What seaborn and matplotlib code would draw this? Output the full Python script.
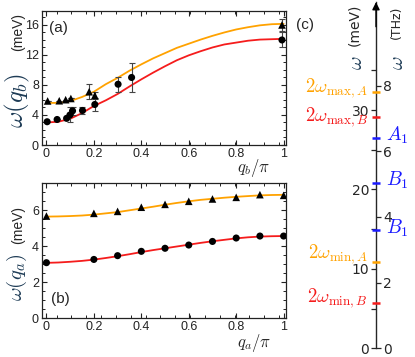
import numpy as np
import pandas as pd
import matplotlib
matplotlib.use('Agg')
import matplotlib.pyplot as plt
import seaborn as sns
from matplotlib.ticker import MultipleLocator, FixedLocator

# ---- data ----
q_curve = np.round(np.arange(0, 1.001, 0.05), 2)

# panel (a): dispersion along q_b
wb_curve_A = [5.6, 5.62, 5.85, 6.4, 7.1, 8.1, 8.95, 9.9, 10.75, 11.55, 12.25,
              12.95, 13.5, 14.05, 14.55, 15.0, 15.4, 15.7, 15.95, 16.1, 16.15]
wb_curve_B = [3.0, 3.1, 3.5, 4.25, 5.2, 5.95, 6.8, 7.8, 8.75, 9.65, 10.5,
              11.3, 11.95, 12.5, 13.0, 13.4, 13.65, 13.9, 14.05, 14.1, 14.15]
qb_pts_B = [0.003, 0.045, 0.085, 0.099, 0.11, 0.152, 0.204, 0.302, 0.359, 0.993]
wb_pts_B = [3.1, 3.4, 3.55, 4.0, 4.55, 4.6, 5.4, 8.1, 9.0, 14.0]
wb_err_B = [0, 0, 0, 1.0, 0.5, 0.45, 0.9, 1.0, 1.95, 1.0]
qb_pts_A = [0.005, 0.054, 0.081, 0.103, 0.18, 0.204, 0.993]
wb_pts_A = [5.87, 5.9, 6.04, 6.2, 7.1, 6.6, 16.0]
wb_err_A = [0, 0, 0, 0, 1.0, 0.5, 0.8]

# panel (b): dispersion along q_a
wa_curve_A = [5.65, 5.66, 5.68, 5.71, 5.76, 5.83, 5.9, 6.0, 6.1, 6.2, 6.31,
              6.41, 6.5, 6.58, 6.64, 6.7, 6.75, 6.79, 6.83, 6.85, 6.86]
wa_curve_B = [3.08, 3.1, 3.14, 3.19, 3.26, 3.35, 3.45, 3.56, 3.68, 3.79, 3.89,
              3.99, 4.09, 4.19, 4.28, 4.36, 4.44, 4.5, 4.54, 4.56, 4.57]
qa_pts = [0, 0.2, 0.3, 0.4, 0.5, 0.6, 0.7, 0.8, 0.9, 1.0]
wa_pts_A = [5.68, 5.83, 5.94, 6.17, 6.33, 6.5, 6.63, 6.72, 6.87, 6.83]
wa_pts_B = [3.09, 3.27, 3.48, 3.72, 3.89, 4.07, 4.27, 4.46, 4.57, 4.57]

# panel (c): energy scale marks (meV)
mark_names = [r'$2\omega_{\max,A}$', r'$2\omega_{\max,B}$', r'$A_1$', r'$B_1$',
              r'$B_1$', r'$2\omega_{\min,A}$', r'$2\omega_{\min,B}$']
mark_energy = [32.3, 29.1, 26.45, 20.8, 14.9, 10.9, 5.75]
mark_kind = ['A', 'B', 'mode', 'mode', 'mode', 'A', 'B']
mev_per_thz = 4.1357

# small vertical nudges of the label baselines (meV), as in the reference
label_nudge = [0.0, -0.5, -0.3, -0.3, -0.5, 0.5, 0.0]

ORANGE = '#ffa200'
RED = '#f51c1c'
BLUE = '#1a1aff'
kind_color = {'A': ORANGE, 'B': RED, 'mode': BLUE}

sns.set_style('ticks')
plt.rcParams['font.family'] = ['Liberation Sans', 'DejaVu Sans']
plt.rcParams['mathtext.fontset'] = 'cm'

W, H = 415, 357
fig = plt.figure(figsize=(W / 100, H / 100), dpi=100)


def px_axes(x0, y0, x1, y1):
    return fig.add_axes([x0 / W, 1 - y1 / H, (x1 - x0) / W, (y1 - y0) / H])


def style_panel(ax, ymax, ymajor, yminor):
    ax.set_xlim(-0.02, 1.01)
    ax.set_ylim(0, ymax)
    ax.xaxis.set_major_locator(FixedLocator([0, 0.2, 0.4, 0.6, 0.8, 1.0]))
    ax.set_xticklabels(['0', '0.2', '0.4', '0.6', '0.8', '1'])
    ax.xaxis.set_minor_locator(FixedLocator(np.arange(0.043, 1.0, 0.0625)))
    ax.yaxis.set_major_locator(MultipleLocator(ymajor))
    ax.yaxis.set_minor_locator(MultipleLocator(yminor))
    ax.tick_params(which='both', direction='in', top=True, right=True,
                   labelsize=9, colors='#222222', pad=2)
    ax.tick_params(which='major', length=3.6, width=0.8)
    ax.tick_params(which='minor', length=2.0, width=0.7)
    for s in ax.spines.values():
        s.set_linewidth(0.9)
        s.set_color('#222222')
    ax.set_xlabel('')
    ax.set_ylabel('')


# ---- panel (a) ----
ax_a = px_axes(41.7, 10.7, 286, 145)
curve_a = pd.DataFrame({'q': q_curve, 'A': wb_curve_A, 'B': wb_curve_B})
sns.lineplot(data=curve_a, x='q', y='A', color=ORANGE, lw=1.3, ax=ax_a)
sns.lineplot(data=curve_a, x='q', y='B', color=RED, lw=1.3, ax=ax_a)
ax_a.errorbar(qb_pts_A, wb_pts_A, yerr=wb_err_A, fmt='none', ecolor='#444444',
              elinewidth=0.8, capsize=2.5, capthick=0.8)
ax_a.errorbar(qb_pts_B, wb_pts_B, yerr=wb_err_B, fmt='none', ecolor='#444444',
              elinewidth=0.8, capsize=2.5, capthick=0.8)
sns.scatterplot(x=qb_pts_A, y=wb_pts_A, marker='^', s=30, color='black',
                edgecolor='none', ax=ax_a, zorder=5)
sns.scatterplot(x=qb_pts_B, y=wb_pts_B, marker='o', s=26, color='black',
                edgecolor='none', ax=ax_a, zorder=5)
style_panel(ax_a, 17.9, 4, 1)
ax_a.text(0.03, 0.92, '(a)', transform=ax_a.transAxes, fontsize=11,
          va='top', ha='left')

# ---- panel (b) ----
ax_b = px_axes(41.7, 183.3, 286, 318.3)
curve_b = pd.DataFrame({'q': q_curve, 'A': wa_curve_A, 'B': wa_curve_B})
sns.lineplot(data=curve_b, x='q', y='A', color=ORANGE, lw=1.3, ax=ax_b)
sns.lineplot(data=curve_b, x='q', y='B', color=RED, lw=1.3, ax=ax_b)
sns.scatterplot(x=qa_pts, y=wa_pts_A, marker='^', s=30, color='black',
                edgecolor='none', ax=ax_b, zorder=5)
sns.scatterplot(x=qa_pts, y=wa_pts_B, marker='o', s=26, color='black',
                edgecolor='none', ax=ax_b, zorder=5)
style_panel(ax_b, 7.5, 2, 0.5)
ax_b.text(0.04, 0.09, '(b)', transform=ax_b.transAxes, fontsize=11,
          va='bottom', ha='left')

# axis labels as figure text
def ftext(x, y, s, **kw):
    fig.text(x / W, 1 - y / H, s, ha='center', va='center', **kw)

ftext(17, 101, r'$\omega(q_b)$', rotation=90, fontsize=18, color='#1d3b55')
ftext(18.5, 32, '(meV)', rotation=90, fontsize=10)
ftext(17, 277, r'$\omega(q_a)$', rotation=90, fontsize=15, color='#1d3b55')
ftext(18.5, 224.5, '(meV)', rotation=90, fontsize=10)
ftext(254, 168, r'$q_b/\pi$', fontsize=12)
ftext(254, 343, r'$q_a/\pi$', fontsize=12)

# ---- panel (c) ----
ax_c = px_axes(336, 2.1, 416, 348.3)
ax_c.set_xlim(-1, 1)
ax_c.set_ylim(0, 43.6)
for side in ['right', 'top', 'bottom']:
    ax_c.spines[side].set_visible(False)
ax_c.spines['left'].set_position(('data', 0))
ax_c.spines['left'].set_linewidth(1.0)
ax_c.set_xticks([])
ax_c.yaxis.set_major_locator(FixedLocator([0, 10, 20, 30]))
ax_c.yaxis.set_minor_locator(FixedLocator([5, 15, 25, 35]))
ax_c.tick_params(axis='y', which='both', direction='out', length=3.5,
                 width=0.9, labelsize=10, pad=1.5)
for lab in ax_c.get_yticklabels():
    lab.set_family('DejaVu Sans')
ax_c.annotate('', xy=(0, 43.6), xytext=(0, 40.5),
              arrowprops=dict(arrowstyle='-|>', color='black', lw=1.0,
                              mutation_scale=11, shrinkA=0, shrinkB=0))

ax_t = ax_c.twinx()
ax_t.set_ylim(0, 43.6 / mev_per_thz)
for side in ['left', 'top', 'bottom']:
    ax_t.spines[side].set_visible(False)
ax_t.spines['right'].set_position(('data', 0))
ax_t.spines['right'].set_color('none')
ax_t.yaxis.set_major_locator(FixedLocator([0, 2, 4, 6, 8]))
ax_t.tick_params(axis='y', which='both', direction='out', length=3.5,
                 width=0.9, labelsize=10, pad=1.5)
for lab in ax_t.get_yticklabels():
    lab.set_family('DejaVu Sans')

for name, e, kind, dy in zip(mark_names, mark_energy, mark_kind, label_nudge):
    col = kind_color[kind]
    ax_c.plot([-0.11, 0.11], [e, e], color=col, lw=1.8, solid_capstyle='butt',
              zorder=6)
    if kind == 'mode':
        ax_c.text(0.26, e + dy, name, color=col, fontsize=14, ha='left',
                  va='baseline')
    else:
        ax_c.text(-0.2, e + dy, name, color=col, fontsize=13.5, ha='right',
                  va='baseline')

ftext(356, 63, r'$\omega$', rotation=90, fontsize=15, color='#1d3b55')
ftext(354, 25, '(meV)', rotation=90, fontsize=10, family='DejaVu Sans')
ftext(397, 63, r'$\omega$', rotation=90, fontsize=15, color='#1d3b55')
ftext(396, 22, '(THz)', rotation=90, fontsize=9, family='DejaVu Sans')
ftext(305, 25, '(c)', fontsize=11)

fig.savefig('out.png', dpi=100)
